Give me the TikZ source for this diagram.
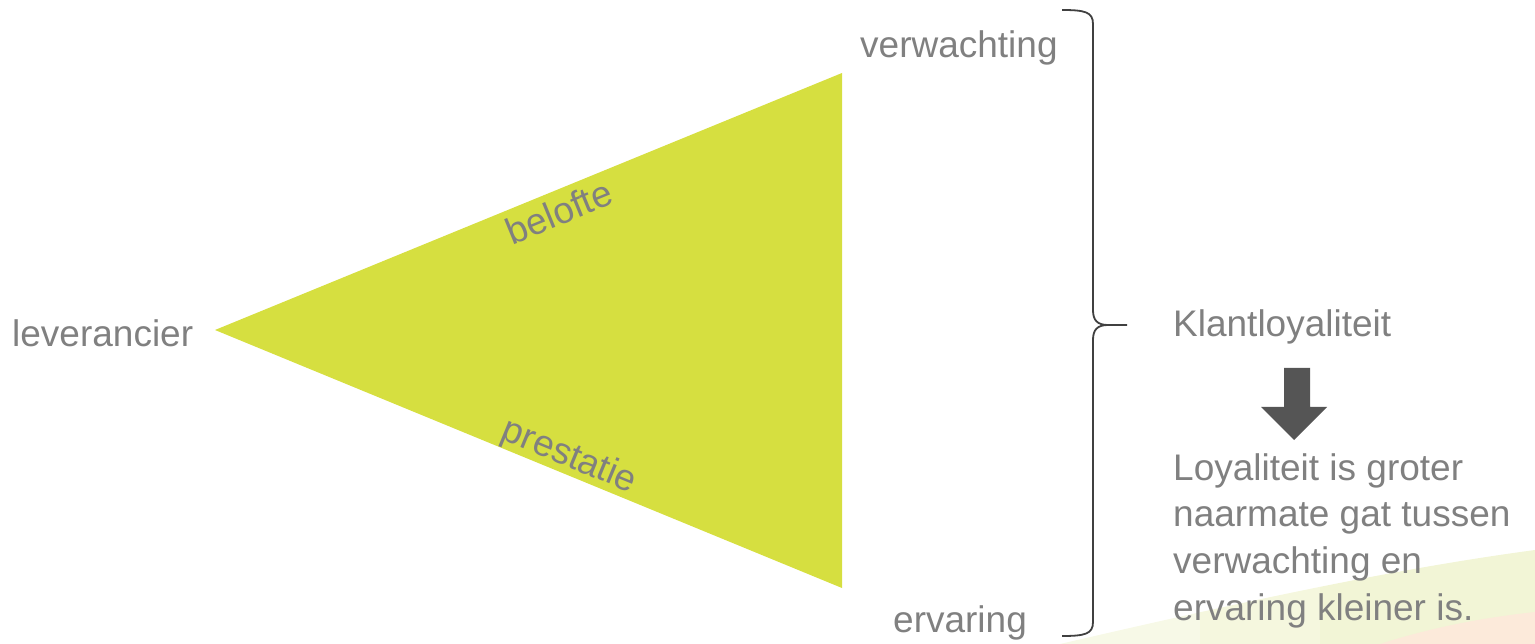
\documentclass[tikz,border=0pt]{standalone}
\usepackage{fontspec}
\setmainfont{Liberation Sans}
\definecolor{tri}{RGB}{214,223,64}
\definecolor{txt}{RGB}{128,128,128}
\definecolor{brc}{RGB}{64,64,64}
\definecolor{arr}{RGB}{85,85,85}
\definecolor{swA}{RGB}{242,245,214}
\definecolor{swB}{RGB}{252,234,218}
\tikzset{
  lbl/.style={text=txt, inner sep=0pt, font=\fontsize{37}{46.7}\selectfont},
}
\begin{document}
\begin{tikzpicture}[x=1pt,y=-1pt]
\useasboundingbox (0,0) rectangle (1535,644);
% faint background swoosh
\begin{scope}
  \clip (1060,644) .. controls (1250,600) and (1400,568) .. (1535,550) -- (1535,644) -- cycle;
  \fill[white!40!swA] (1060,540) rectangle (1200,644);
  \fill[white!20!swA] (1200,540) rectangle (1320,644);
  \fill[swA] (1320,540) rectangle (1535,644);
\end{scope}
\begin{scope}
  \clip (1380,644) .. controls (1430,628) and (1480,618) .. (1535,612) -- (1535,644) -- cycle;
  \fill[swB] (1380,600) rectangle (1535,644);
\end{scope}
% triangle
\coordinate (tip) at (215,330);
\coordinate (tr) at (842,73);
\coordinate (br) at (842,588);
\fill[tri] (tip) -- (tr) -- (br) -- cycle;
% labels
\node[lbl, anchor=base west] (lev) at (12,347) {leverancier};
\node[lbl, anchor=base west] (verw) at (860,58) {verwachting};
\node[lbl, anchor=base west] (erv) at (893,632) {ervaring};
\node[lbl, rotate=22.3] (bel) at (559,212) {belofte};
\node[lbl, rotate=-22.4] (pres) at (569,457) {prestatie};
\node[lbl, anchor=base west] (klant) at (1173,337) {Klantloyaliteit};
\node[lbl, anchor=north west, align=left] (loy) at (1173,453)
  {Loyaliteit is groter\\naarmate gat tussen\\verwachting en\\ervaring kleiner is.};
% brace
\coordinate (bt) at (1062,10);
\coordinate (bb) at (1062,636);
\coordinate (bm) at (1127,325);
\draw[brc, line width=1.8pt] (bt) .. controls (1085,10) and (1093,12) .. (1093,24) -- (1093,310)
  .. controls (1093,320) and (1097,325) .. (1108,325) -- (bm);
\draw[brc, line width=1.8pt] (1108,325) .. controls (1097,325) and (1093,330) .. (1093,340) -- (1093,622)
  .. controls (1093,634) and (1085,636) .. (bb);
% block arrow
\fill[arr] (1284,368) -- (1310,368) -- (1310,407) -- (1327,407) -- (1294,440) -- (1261,407) -- (1284,407) -- cycle;
\end{tikzpicture}
\end{document}
